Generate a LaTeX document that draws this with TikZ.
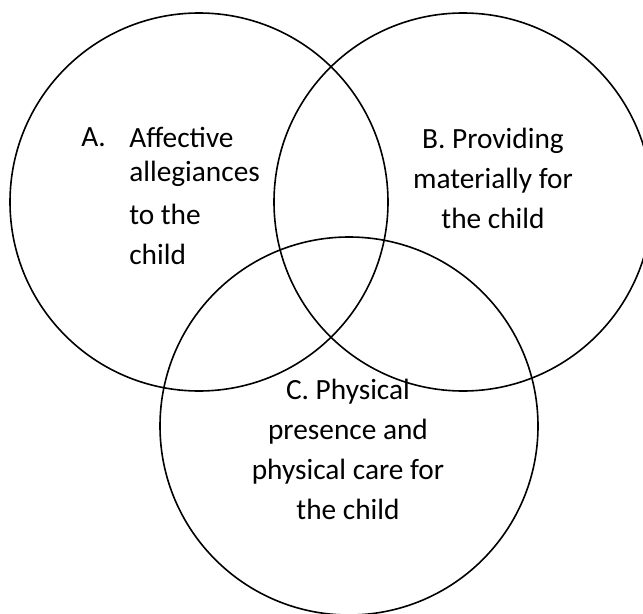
\documentclass[tikz,border=0pt]{standalone}
\usepackage{fontspec}
\setmainfont{Carlito}

\begin{document}
\begin{tikzpicture}[x=0.75pt,y=-0.75pt,
        setring/.style={shape=circle,draw=black,line width=1.2pt,minimum size=283.5pt,inner sep=0pt},
        settext/.style={font=\fontsize{22}{30}\selectfont,inner sep=0pt}]
        \useasboundingbox (0,0) rectangle (643,614);
        % the three overlapping sets
        \node[setring](setA) at (199,202) {};
        \node[setring](setB) at (463,202) {};
        \node[setring](setC) at (349,426) {};
        % labels
        \node[settext,anchor=base west](labA) at (81,146) {A.};
        \node[settext,anchor=north west,align=left](txtA) at (129,126.5) {Affective\\[-4.5pt]allegiances\\[2.25pt]to the\\child};
        \node[settext,anchor=north,align=center](txtB) at (493,128) {B. Providing\\materially for\\the child};
        \node[settext,anchor=north,align=center](txtC) at (348,379) {C. Physical\\presence and\\physical care for\\the child};
    \end{tikzpicture}
\end{document}
